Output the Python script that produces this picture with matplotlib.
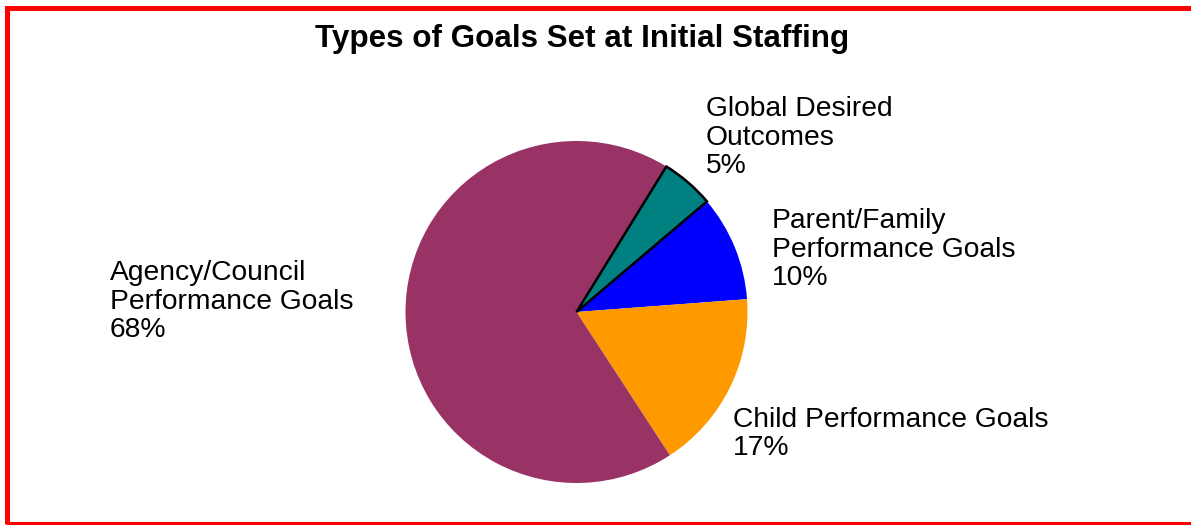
import matplotlib
matplotlib.use("Agg")
import matplotlib.pyplot as plt
from matplotlib.patches import Rectangle

plt.rcParams["font.family"] = ["Liberation Sans", "DejaVu Sans"]

# Goal types, clockwise from the top-right slice
categories = ["Global Desired\nOutcomes", "Parent/Family\nPerformance Goals",
              "Child Performance Goals", "Agency/Council\nPerformance Goals"]
shares = [5, 10, 17, 68]
colors = ["#008080", "#0000FF", "#FF9900", "#993366"]

W, H = 1191, 525
fig = plt.figure(figsize=(W / 100, H / 100), dpi=100)
fig.patch.set_facecolor("white")

# pie axes: centre (576.5, 312) px, radius 171 px
cx, cy, r = 576.5, 312.0, 171.0
ax = fig.add_axes([(cx - r) / W, (H - cy - r) / H, 2 * r / W, 2 * r / H])
wedges, _ = ax.pie(shares, colors=colors, startangle=58.3, counterclock=False,
                   radius=1.0, wedgeprops=dict(linewidth=0))
wedges[0].set_edgecolor("black")
wedges[0].set_linewidth(1.8)
wedges[0].set_zorder(5)
ax.set_xlim(-1, 1)
ax.set_ylim(-1, 1)
ax.set_aspect("equal")
ax.axis("off")

# label anchors (left x, last-line baseline y) in pixels from the top-left
label_pos = [(706, 173), (772, 285), (733, 455), (110, 337)]
for name, val, (lx, ly) in zip(categories, shares, label_pos):
    fig.text(lx / W, 1 - ly / H, f"{name}\n{val}%", fontsize=20.3,
             ha="left", va="baseline", linespacing=1.12, color="black")

fig.text(582 / W, 1 - 47 / H, "Types of Goals Set at Initial Staffing",
         fontsize=22.6, fontweight="bold", ha="center", va="baseline")

# red frame (open on the right side)
fig.patches.append(Rectangle((6.5 / W, 1 - 523.5 / H), (W + 20) / W,
                             (523.5 - 7.5) / H,
                             transform=fig.transFigure, fill=False,
                             edgecolor="#FF0000", linewidth=3.6,
                             clip_on=False))

fig.savefig("out.png", dpi=100)
